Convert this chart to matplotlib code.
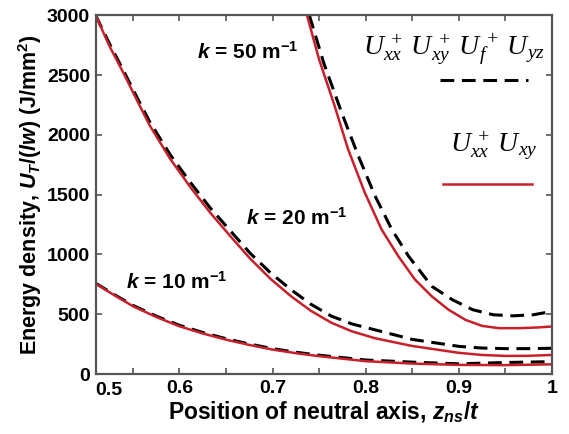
import matplotlib
matplotlib.use('Agg')
import matplotlib.pyplot as plt
from matplotlib.ticker import MultipleLocator

plt.rcParams['font.family'] = ['Liberation Sans', 'DejaVu Sans']
plt.rcParams['mathtext.fontset'] = 'custom'
plt.rcParams['mathtext.rm'] = 'Liberation Sans:bold'
plt.rcParams['mathtext.it'] = 'Liberation Sans:bold:italic'
plt.rcParams['mathtext.bf'] = 'Liberation Sans:bold'
plt.rcParams['mathtext.sf'] = 'Liberation Serif:italic:normal'

# data
x_k10 = [0.51, 0.53, 0.55, 0.575, 0.6, 0.625, 0.65, 0.675, 0.7, 0.725, 0.75, 0.8, 0.85, 0.9, 0.95, 1.0]
k10_full = [760, 665, 575, 485, 408, 348, 296, 252, 213, 183, 158, 118, 100, 86, 97, 104]
k10_part = [756, 660, 568, 478, 400, 340, 288, 244, 205, 175, 150, 108, 88, 77, 75, 82]

x_k20 = [0.51, 0.525, 0.541, 0.555, 0.568, 0.59, 0.612, 0.633, 0.655, 0.676, 0.698,
         0.72, 0.741, 0.763, 0.785, 0.81, 0.85, 0.9, 0.925, 0.95, 0.975, 1.0]
k20_full = [3000, 2760, 2520, 2305, 2110, 1835, 1600, 1390, 1195, 1010, 845,
            705, 585, 485, 420, 370, 290, 232, 218, 213, 213, 216]
k20_part = [3000, 2740, 2500, 2280, 2080, 1800, 1560, 1350, 1150, 965, 795,
            650, 530, 430, 358, 300, 235, 178, 160, 152, 153, 160]

x_k50_full = [0.7395, 0.755, 0.774, 0.792, 0.81, 0.828, 0.846, 0.871, 0.893, 0.915,
              0.937, 0.958, 0.98, 1.0]
k50_full = [3000, 2600, 2190, 1826, 1490, 1210, 986, 734, 622, 538,
            496, 487, 496, 524]
x_k50_part = [0.737, 0.75, 0.7665, 0.781, 0.799, 0.817, 0.835, 0.853, 0.871, 0.889,
              0.907, 0.925, 0.943, 0.965, 0.985, 1.0]
k50_part = [3000, 2630, 2246, 1882, 1518, 1210, 986, 790, 650, 538,
            454, 403, 384, 384, 390, 398]

k_labels = ['50', '20', '10']

red = '#c8202a'
dash = (4.5, 2.5)

fig = plt.figure(figsize=(5.69, 4.34), dpi=100)
ax = fig.add_axes([0.168, 0.138, 0.802, 0.827])

ax.plot(x_k10, k10_full, color='black', lw=2.2, dashes=dash)
ax.plot(x_k10, k10_part, color=red, lw=1.8)
ax.plot(x_k20, k20_full, color='black', lw=2.2, dashes=dash)
ax.plot(x_k20, k20_part, color=red, lw=1.8)
ax.plot(x_k50_full, k50_full, color='black', lw=2.2, dashes=dash)
ax.plot(x_k50_part, k50_part, color=red, lw=1.8)

ax.set_xlim(0.51, 1.0)
ax.set_ylim(0, 3000)
ax.set_xticks([0.6, 0.7, 0.8, 0.9, 1.0])
ax.set_xticklabels(['0.6', '0.7', '0.8', '0.9', '1'])
ax.xaxis.set_minor_locator(MultipleLocator(0.05))
ax.set_yticks([0, 500, 1000, 1500, 2000, 2500, 3000])
ax.tick_params(which='both', direction='in', top=True, right=True,
               length=4, width=1.2, color='#555555', labelsize=14, pad=4)
for lab in ax.get_xticklabels() + ax.get_yticklabels():
    lab.set_fontweight('bold')
for s in ax.spines.values():
    s.set_color('#555555')
    s.set_linewidth(1.6)
# the "0.5" label sits just inside the left edge in the original
ax.text(0.0, -0.022, '0.5', transform=ax.transAxes, ha='left', va='top',
        fontsize=14, fontweight='bold')

ax.set_xlabel('Position of neutral axis, $z_{ns}$/$t$', fontsize=16.5,
              fontweight='bold', labelpad=2)
ax.set_ylabel('Energy density, $U_T$/($lw$) (J/mm$^2$)', fontsize=15.5,
              fontweight='bold', labelpad=2)

ax.text(0.333, 0.897, '$k$ = %s m$^{-1}$' % k_labels[0], transform=ax.transAxes,
        ha='center', va='center', fontsize=15, fontweight='bold')
ax.text(0.44, 0.435, '$k$ = %s m$^{-1}$' % k_labels[1], transform=ax.transAxes,
        ha='center', va='center', fontsize=15, fontweight='bold')
ax.text(0.178, 0.256, '$k$ = %s m$^{-1}$' % k_labels[2], transform=ax.transAxes,
        ha='center', va='center', fontsize=15, fontweight='bold')

# legend drawn like the original: label above its line sample
ax.text(0.985, 0.905,
        r'$\mathsf{U_{xx}^{\,+}\,U_{xy}^{\,+}\,U_{f}^{\,+}\,U_{yz}}$',
        transform=ax.transAxes, ha='right', va='center', fontsize=20)
ax.plot([0.754, 0.947], [0.819, 0.819], transform=ax.transAxes,
        color='black', lw=2.2, dashes=dash)
ax.text(0.873, 0.638, r'$\mathsf{U_{xx}^{\,+}\,U_{xy}}$',
        transform=ax.transAxes, ha='center', va='center', fontsize=20)
ax.plot([0.761, 0.956], [0.529, 0.529], transform=ax.transAxes,
        color=red, lw=1.8)

fig.savefig('out.png', dpi=100)
